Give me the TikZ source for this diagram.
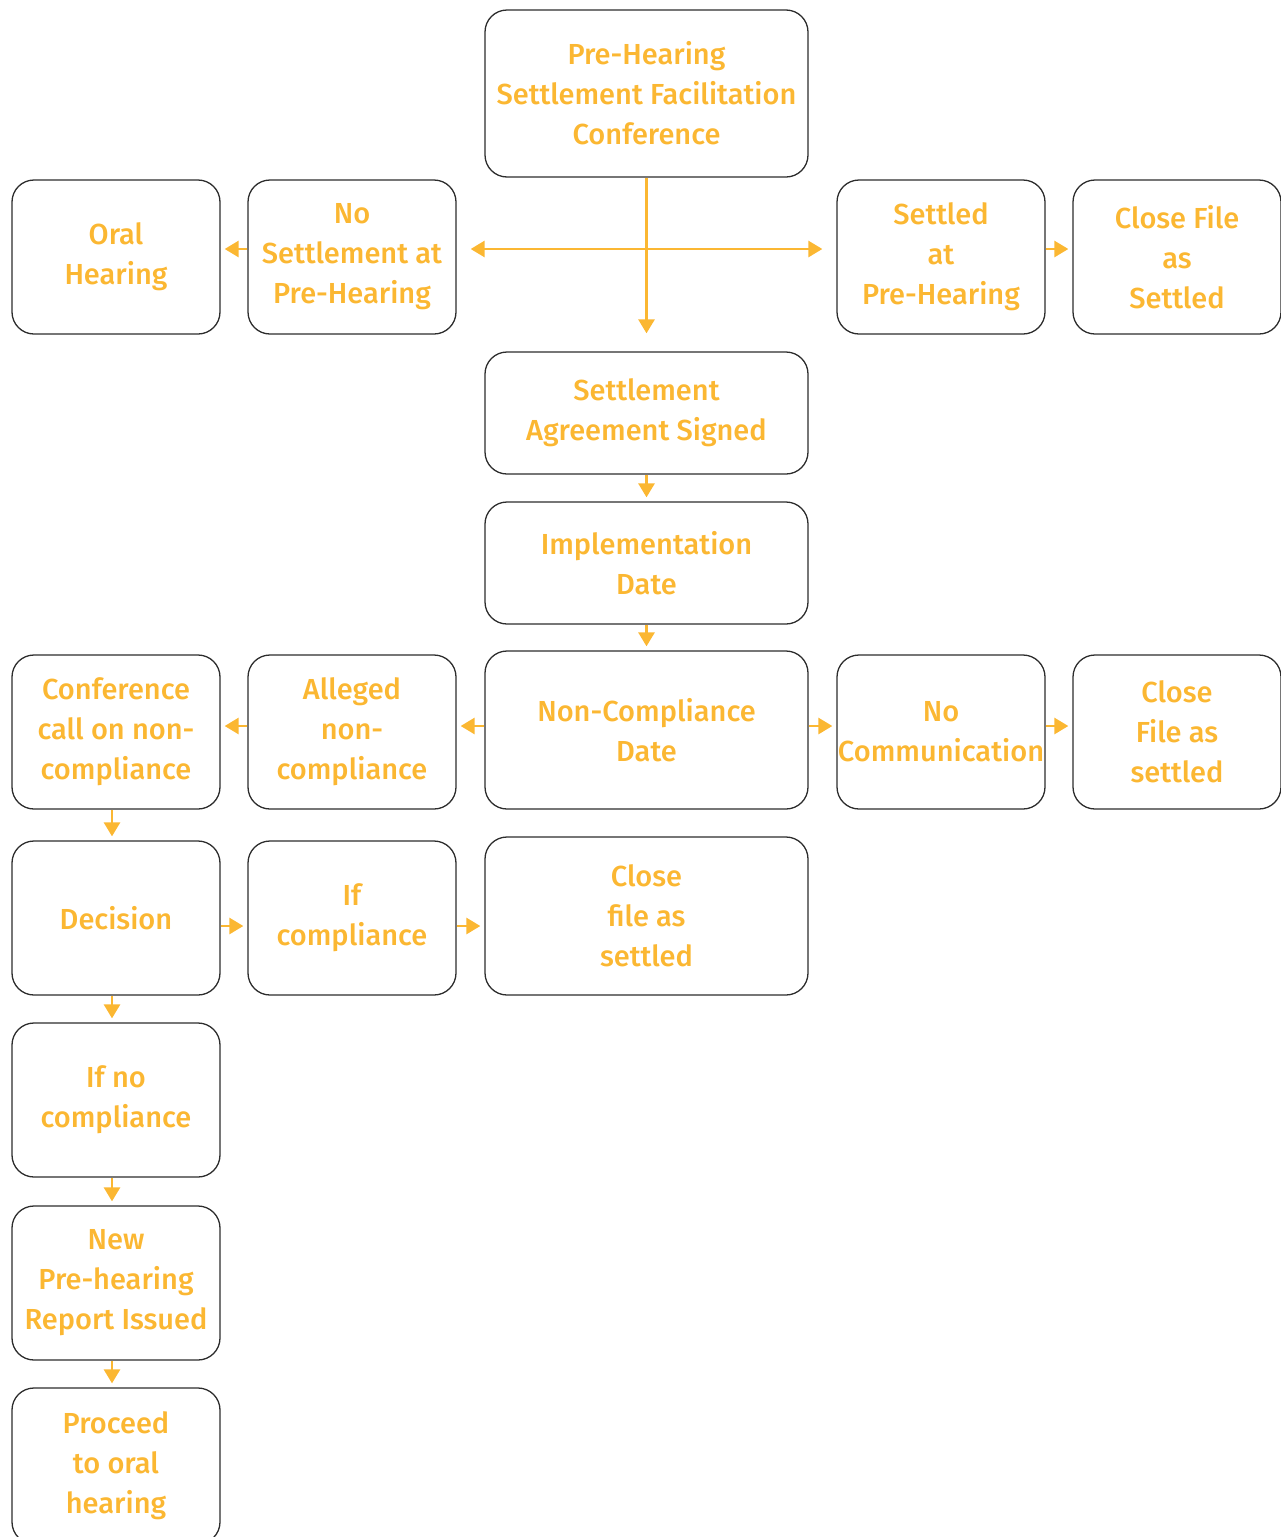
\documentclass[tikz,border=0pt]{standalone}
\usepackage{fontspec}
\setmainfont{Fira Sans}[UprightFont={* Medium}]
\usetikzlibrary{arrows.meta}
\definecolor{flowyellow}{RGB}{251,183,50}
\definecolor{boxline}{RGB}{45,45,45}

\begin{document}
\begin{tikzpicture}[x=1pt,y=-1pt,
    box/.style={draw=boxline,line width=1.3pt,rounded corners=22pt,align=center,
        text=flowyellow,inner sep=0pt,font=\fontsize{29}{40}\selectfont},
    small/.style={box,minimum width=208pt,minimum height=154pt},
    wide/.style={box,minimum width=323pt},
    flow/.style={draw=flowyellow,line width=2.8pt,-{Triangle[length=14pt,width=16pt]},shorten >=4pt}]
    \useasboundingbox (0,0) rectangle (1281,1537);

    % centre column
    \node[wide,minimum height=167pt] (pre) at (646.5,93.5) {Pre-Hearing\\Settlement Facilitation\\Conference};
    \node[wide,minimum height=122pt] (signed) at (646.5,413) {Settlement\\Agreement Signed};
    \node[wide,minimum height=122pt] (impl) at (646.5,563) {Implementation\\Date};
    \node[wide,minimum height=158pt] (noncomp) at (646.5,730) {Non-Compliance\\Date};
    \node[wide,minimum height=158pt] (closefile) at (646.5,916) {Close\\file as\\settled};

    % second row
    \node[small] (oral) at (116,257) {Oral\\Hearing};
    \node[small] (nosettle) at (352,257) {No\\Settlement at\\Pre-Hearing};
    \node[small] (settled) at (941,257) {Settled\\at\\Pre-Hearing};
    \node[small] (closesettled) at (1177,257) {Close File\\as\\Settled};

    % non-compliance row
    \node[small] (confcall) at (116,732) {Conference\\call on non-\\compliance};
    \node[small] (alleged) at (352,732) {Alleged\\non-\\compliance};
    \node[small] (nocomm) at (941,732) {No\\Communication};
    \node[small] (closenocomm) at (1177,732) {Close\\File as\\settled};

    % left column
    \node[small] (decision) at (116,918) {Decision};
    \node[small] (ifcomp) at (352,918) {If\\compliance};
    \node[small] (ifno) at (116,1100) {If no\\compliance};
    \node[small] (newrep) at (116,1283) {New\\Pre-hearing\\Report Issued};
    \node[small,minimum height=156pt] (proceed) at (116,1466) {Proceed\\to oral\\hearing};

    \draw[flow,shorten >=18pt] (pre) -- (signed);
    \draw[flow,{Triangle[length=14pt,width=16pt]}-{Triangle[length=14pt,width=16pt]},shorten <=14pt,shorten >=14pt]
        ([yshift=8pt]nosettle.east) -- ([yshift=8pt]settled.west);
    \draw[flow] ([yshift=8pt]nosettle.west) -- ([yshift=8pt]oral.east);
    \draw[flow] ([yshift=8pt]settled.east) -- ([yshift=8pt]closesettled.west);
    \draw[flow] (signed) -- (impl);
    \draw[flow] (impl) -- (noncomp);
    \draw[flow] ([yshift=4pt]noncomp.west) -- ([yshift=6pt]alleged.east);
    \draw[flow] ([yshift=6pt]alleged.west) -- ([yshift=6pt]confcall.east);
    \draw[flow] ([yshift=4pt]noncomp.east) -- ([yshift=6pt]nocomm.west);
    \draw[flow] ([yshift=6pt]nocomm.east) -- ([yshift=6pt]closenocomm.west);
    \draw[flow] ([xshift=-4pt]confcall.south) -- ([xshift=-4pt]decision.north);
    \draw[flow] ([yshift=-8pt]decision.east) -- ([yshift=-8pt]ifcomp.west);
    \draw[flow] ([yshift=-8pt]ifcomp.east) -- ([yshift=-10pt]closefile.west);
    \draw[flow] ([xshift=-4pt]decision.south) -- ([xshift=-4pt]ifno.north);
    \draw[flow] ([xshift=-4pt]ifno.south) -- ([xshift=-4pt]newrep.north);
    \draw[flow] ([xshift=-4pt]newrep.south) -- ([xshift=-4pt]proceed.north);
\end{tikzpicture}
\end{document}
